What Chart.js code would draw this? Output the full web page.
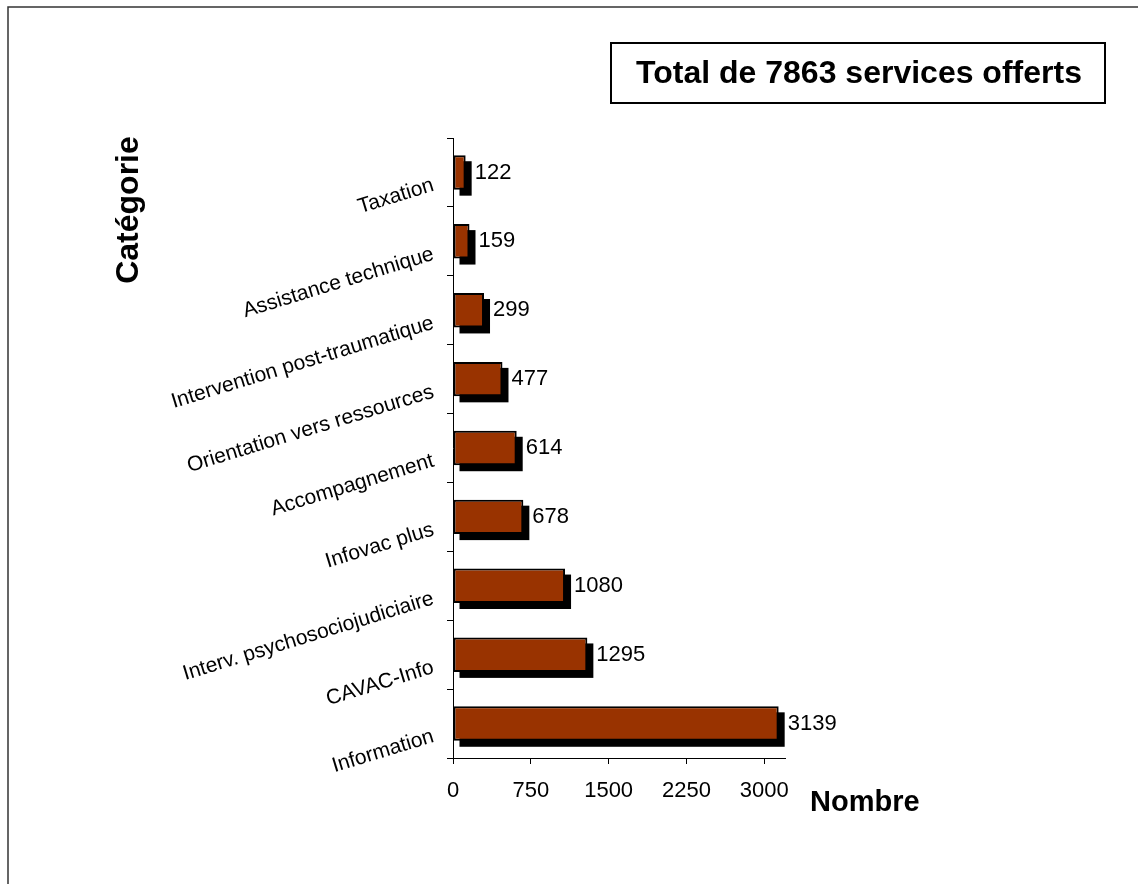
<!DOCTYPE html>
<html lang="fr">
<head>
<meta charset="utf-8">
<title>Services offerts par catégorie</title>
<script src="https://cdn.jsdelivr.net/npm/chart.js@4"></script>
<style>
  html, body { margin: 0; padding: 0; background: #fff; }
  canvas { display: block; }
</style>
</head>
<body>
<canvas id="services-chart" width="1138" height="884"></canvas>
<script>
// Services offerts, du plus rare au plus fréquent (haut vers bas)
const categories = [
  "Taxation",
  "Assistance technique",
  "Intervention post-traumatique",
  "Orientation vers ressources",
  "Accompagnement",
  "Infovac plus",
  "Interv. psychosociojudiciaire",
  "CAVAC-Info",
  "Information",
];
const serviceCounts = [122, 159, 299, 477, 614, 678, 1080, 1295, 3139];
const totalServices = 7863;
const axisTicks = [0, 750, 1500, 2250, 3000];

const FONT = "'Liberation Sans', Arial, Helvetica, sans-serif";
const BAR_COLOR = "#993300";
const SHADOW_OFFSET = 6;

// Fond blanc, cadre extérieur, encadré du titre et titres d'axes
const decorPlugin = {
  id: "decor",
  beforeDraw(chart) {
    const ctx = chart.ctx;
    ctx.save();
    ctx.fillStyle = "#fff";
    ctx.fillRect(0, 0, chart.width, chart.height);
    ctx.strokeStyle = "#333";
    ctx.lineWidth = 1.5;
    ctx.strokeRect(8, 7, chart.width + 20, chart.height + 20);
    ctx.restore();
  },
  afterDraw(chart) {
    const ctx = chart.ctx;
    ctx.save();

    // Encadré "Total de ..."
    ctx.strokeStyle = "#000";
    ctx.lineWidth = 2;
    ctx.strokeRect(611, 43, 494, 60);
    ctx.fillStyle = "#000";
    ctx.font = `bold 32px ${FONT}`;
    ctx.textAlign = "center";
    ctx.textBaseline = "middle";
    ctx.fillText(`Total de ${totalServices} services offerts`, 859, 74);

    // Titre de l'axe des catégories
    ctx.save();
    ctx.translate(138, 210);
    ctx.rotate(-Math.PI / 2);
    ctx.textAlign = "center";
    ctx.textBaseline = "alphabetic";
    ctx.fillText("Catégorie", 0, 0);
    ctx.restore();

    // Titre de l'axe des valeurs
    ctx.font = `bold 29px ${FONT}`;
    ctx.textAlign = "left";
    ctx.textBaseline = "alphabetic";
    ctx.fillText("Nombre", 810, 811);
    ctx.restore();
  },
};

// Ombre portée noire sous chaque barre, puis valeurs et libellés inclinés
const barDecorPlugin = {
  id: "barDecor",
  beforeDatasetsDraw(chart) {
    const ctx = chart.ctx;
    const meta = chart.getDatasetMeta(0);
    ctx.save();
    ctx.fillStyle = "#000";
    meta.data.forEach((bar) => {
      const { x, y, base, height } = bar.getProps(["x", "y", "base", "height"], true);
      ctx.fillRect(base + SHADOW_OFFSET, y - height / 2 + SHADOW_OFFSET, x - base, height);
    });
    ctx.restore();
  },
  afterDatasetsDraw(chart) {
    const ctx = chart.ctx;
    const meta = chart.getDatasetMeta(0);
    const yScale = chart.scales.y;
    ctx.save();
    ctx.fillStyle = "#000";

    // Valeur à droite de chaque barre
    ctx.font = `22px ${FONT}`;
    ctx.textAlign = "left";
    ctx.textBaseline = "middle";
    meta.data.forEach((bar, i) => {
      ctx.fillText(String(serviceCounts[i]), bar.x + 9, bar.y);
    });

    // Libellés de catégories inclinés
    ctx.font = `21px ${FONT}`;
    ctx.textAlign = "right";
    ctx.textBaseline = "alphabetic";
    categories.forEach((label, i) => {
      const py = yScale.getPixelForValue(i);
      ctx.save();
      ctx.translate(yScale.right - 18, py + 18);
      ctx.rotate((-17 * Math.PI) / 180);
      ctx.fillText(label, 0, 0);
      ctx.restore();
    });
    ctx.restore();
  },
};

new Chart(document.getElementById("services-chart"), {
  type: "bar",
  data: {
    labels: categories,
    datasets: [
      {
        label: "Nombre",
        data: serviceCounts,
        backgroundColor: BAR_COLOR,
        borderColor: "#000",
        borderWidth: 2,
        borderSkipped: false,
        barPercentage: 0.5,
        categoryPercentage: 1,
      },
    ],
  },
  options: {
    indexAxis: "y",
    responsive: false,
    animation: false,
    devicePixelRatio: 1,
    layout: { padding: { top: 138, right: 353, bottom: 0, left: 0 } },
    plugins: {
      legend: { display: false },
      tooltip: { enabled: false },
    },
    scales: {
      x: {
        type: "linear",
        position: "bottom",
        min: 0,
        max: 3200,
        bounds: "data",
        afterBuildTicks: (scale) => {
          scale.ticks = axisTicks.map((v) => ({ value: v }));
        },
        afterFit: (scale) => {
          scale.height = 126;
        },
        ticks: {
          stepSize: 750,
          includeBounds: false,
          color: "#000",
          font: { family: FONT, size: 22 },
          padding: 14,
          maxRotation: 0,
          callback: (value) => String(value),
        },
        grid: { drawOnChartArea: false, tickLength: 6, color: "#000", lineWidth: 1 },
        border: { color: "#000", width: 1 },
      },
      y: {
        type: "category",
        offset: true,
        afterFit: (scale) => {
          scale.width = 453;
        },
        ticks: { display: false },
        grid: {
          offset: true,
          drawOnChartArea: false,
          tickLength: 6,
          color: "#000",
          lineWidth: 1,
        },
        border: { color: "#000", width: 1 },
      },
    },
  },
  plugins: [decorPlugin, barDecorPlugin],
});
</script>
</body>
</html>
